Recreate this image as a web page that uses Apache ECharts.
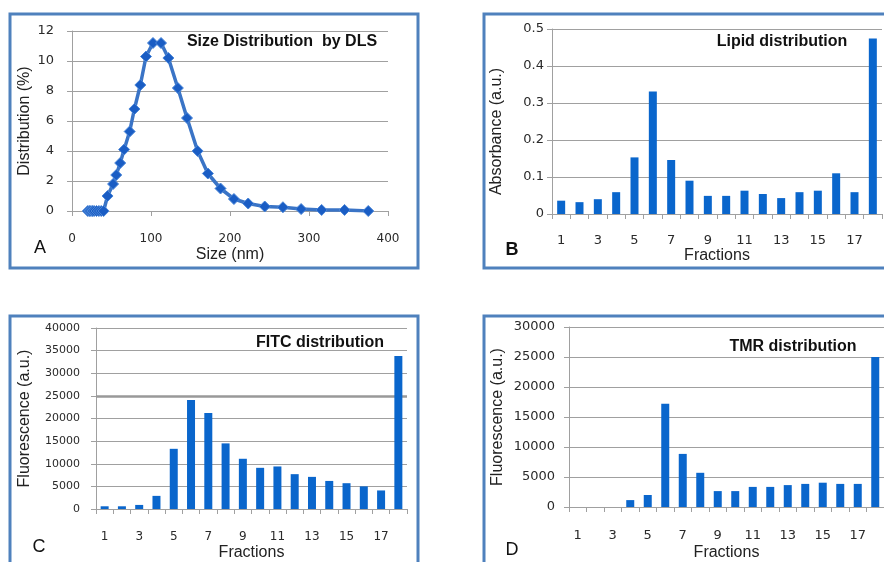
<!DOCTYPE html>
<html>
<head>
<meta charset="utf-8">
<script src="https://cdn.jsdelivr.net/npm/echarts@6/dist/echarts.min.js"></script>
<style>
html,body{margin:0;padding:0;background:#fff;}
#main{width:884px;height:562px;}
</style>
</head>
<body>
<div id="main"></div>
<script>
// ---- Data ----
var sizeNm = [20, 22, 24, 26, 28, 31, 34, 37, 40, 45, 52, 56, 61, 66, 73, 79, 86.5, 93.7, 102.5, 112.7, 122, 134, 145.6, 159, 172, 188, 205, 223, 244, 267, 290, 316, 345, 375];
var distPct = [0, 0, 0, 0, 0, 0, 0, 0, 0, 1.0, 1.8, 2.4, 3.2, 4.1, 5.3, 6.8, 8.4, 10.3, 11.2, 11.2, 10.2, 8.2, 6.2, 4.0, 2.5, 1.5, 0.8, 0.5, 0.3, 0.25, 0.13, 0.07, 0.07, 0.0];
var fractions = ['1','2','3','4','5','6','7','8','9','10','11','12','13','14','15','16','17','18'];
var lipid = [0.036, 0.032, 0.040, 0.059, 0.153, 0.331, 0.146, 0.090, 0.049, 0.049, 0.063, 0.054, 0.043, 0.059, 0.063, 0.110, 0.059, 0.474];
var fitc = [600, 600, 900, 2900, 13300, 24100, 21200, 14500, 11100, 9100, 9400, 7700, 7100, 6200, 5700, 5000, 4100, 33800];
var tmr = [0, 0, 0, 1150, 2000, 17200, 8850, 5700, 2650, 2650, 3350, 3350, 3650, 3850, 4050, 3850, 3850, 25000];
var titles = ['Size Distribution  by DLS', 'Lipid distribution', 'FITC distribution', 'TMR distribution'];
var letters = ['A', 'B', 'C', 'D'];

var chart = echarts.init(document.getElementById('main'));
var grey = '#a0a0a0';
function lab(size) { return {fontFamily: 'DejaVu Sans', fontSize: size, color: '#2a2a2a'}; }
var nameStyle = {fontFamily: 'Liberation Sans', fontSize: 16, color: '#222'};
var bar = '#0a66cc';
var frame = '#4f81bd';
function plain(v) { return String(v); }

function valAxis(idx, min, max, interval, name, gap, margin, size, fmt, pad) {
  var ns = Object.assign({}, nameStyle);
  if (pad) ns.padding = pad;
  return {
    type: 'value', gridIndex: idx, min: min, max: max, interval: interval,
    name: name, nameLocation: 'middle', nameGap: gap, nameTextStyle: ns,
    axisLine: {show: true, lineStyle: {color: grey}},
    axisTick: {show: true, length: 5, lineStyle: {color: grey}},
    axisLabel: Object.assign({margin: margin, formatter: fmt || plain}, lab(size)),
    splitLine: {show: true, lineStyle: {color: grey, width: 1}}
  };
}
function catAxis(idx, gap, margin, size) {
  return {
    type: 'category', gridIndex: idx, data: fractions, boundaryGap: true,
    name: 'Fractions', nameLocation: 'middle', nameGap: gap, nameTextStyle: nameStyle,
    axisLine: {show: true, lineStyle: {color: grey}},
    axisTick: {show: true, length: 5, alignWithLabel: false, interval: 0, lineStyle: {color: grey}},
    axisLabel: Object.assign({margin: margin, interval: 1}, lab(size)),
    splitLine: {show: false}
  };
}

var graphics = [
  {type: 'rect', shape: {x: 10, y: 14, width: 408, height: 254}, style: {fill: 'none', stroke: frame, lineWidth: 3}, z: 0},
  {type: 'rect', shape: {x: 484, y: 14, width: 420, height: 254}, style: {fill: 'none', stroke: frame, lineWidth: 3}, z: 0},
  {type: 'rect', shape: {x: 10, y: 316, width: 408, height: 270}, style: {fill: 'none', stroke: frame, lineWidth: 3}, z: 0},
  {type: 'rect', shape: {x: 484, y: 316, width: 420, height: 270}, style: {fill: 'none', stroke: frame, lineWidth: 3}, z: 0}
];
var titlePos = [[282, 42], [782, 42], [320, 343], [793, 347]];
var letterPos = [[40, 248], [512, 250], [39, 547], [512, 550]];
for (var i = 0; i < 4; i++) {
  graphics.push({type: 'text', z: 10, style: {text: titles[i], x: titlePos[i][0], y: titlePos[i][1], textAlign: 'center', textVerticalAlign: 'middle', font: 'bold 16px "Liberation Sans"', fill: '#111'}});
  graphics.push({type: 'text', z: 10, style: {text: letters[i], x: letterPos[i][0], y: letterPos[i][1], textAlign: 'center', textVerticalAlign: 'middle', font: (i === 1 ? 'bold ' : '') + '18px "Liberation Sans"', fill: '#111'}});
}

var option = {
  backgroundColor: '#fff',
  animation: false,
  graphic: graphics,
  grid: [
    {left: 72, top: 31, width: 316, height: 180},
    {left: 552, top: 29, width: 330, height: 185},
    {left: 96, top: 328, width: 311, height: 181},
    {left: 569, top: 327, width: 324, height: 182}
  ],
  xAxis: [
    {
      type: 'value', gridIndex: 0, min: 0, max: 400, interval: 100,
      name: 'Size (nm)', nameLocation: 'middle', nameGap: 36, nameTextStyle: nameStyle,
      axisLine: {show: true, lineStyle: {color: grey}},
      axisTick: {show: true, length: 5, lineStyle: {color: grey}},
      axisLabel: Object.assign({margin: 22, formatter: plain}, lab(12)),
      splitLine: {show: false}
    },
    catAxis(1, 33, 20, 13),
    catAxis(2, 36, 22, 12),
    catAxis(3, 38, 22, 13)
  ],
  yAxis: [
    valAxis(0, 0, 12, 2, 'Distribution (%)', 39, 18, 13),
    valAxis(1, 0, 0.5, 0.1, 'Absorbance (a.u.)', 47, 8, 13, function (v) { return v === 0 ? '0' : v.toFixed(1); }, [0, 20, 0, 0]),
    valAxis(2, 0, 40000, 5000, 'Fluorescence (a.u.)', 63, 16, 11),
    valAxis(3, 0, 30000, 5000, 'Fluorescence (a.u.)', 63, 14, 13)
  ],
  series: [
    {
      type: 'line', xAxisIndex: 0, yAxisIndex: 0,
      data: sizeNm.map(function (s, k) { return [s, distPct[k]]; }),
      symbol: 'diamond', symbolSize: 11, showSymbol: true,
      lineStyle: {color: '#3a74c6', width: 3.5},
      itemStyle: {color: '#1a5dc4', borderColor: '#4a86d8', borderWidth: 1}
    },
    {type: 'bar', xAxisIndex: 1, yAxisIndex: 1, data: lipid, barWidth: 8, itemStyle: {color: bar}},
    {
      type: 'bar', xAxisIndex: 2, yAxisIndex: 2, data: fitc, barWidth: 8, itemStyle: {color: bar},
      markLine: {silent: true, symbol: 'none', label: {show: false}, lineStyle: {color: '#999', width: 2.5, type: 'solid'}, data: [{yAxis: 25000}], z: 1}
    },
    {type: 'bar', xAxisIndex: 3, yAxisIndex: 3, data: tmr, barWidth: 8, itemStyle: {color: bar}}
  ]
};
chart.setOption(option);
</script>
</body>
</html>
